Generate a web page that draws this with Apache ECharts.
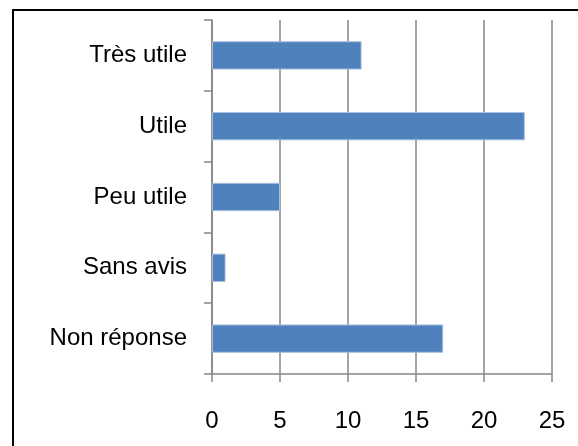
<!DOCTYPE html>
<html>
<head>
<meta charset="utf-8">
<script src="https://cdn.jsdelivr.net/npm/echarts@6/dist/echarts.min.js"></script>
<style>
  html, body { margin: 0; padding: 0; background: #fff; }
  #chart { width: 578px; height: 446px; position: relative; }
  #frame {
    position: absolute; left: 12px; top: 9px; width: 600px; height: 460px;
    border-left: 2px solid #000; border-top: 2px solid #000; pointer-events: none;
  }
</style>
</head>
<body>
<div id="chart"></div>
<div id="frame"></div>
<script>
const categories = ['Très utile', 'Utile', 'Peu utile', 'Sans avis', 'Non réponse']
const values = [11, 23, 5, 1, 17]

const chart = echarts.init(document.getElementById('chart'))
const gray = '#878787'
const font = '"Liberation Sans", Arial, sans-serif'

chart.setOption({
  animation: false,
  grid: { left: 212, right: 26, top: 20, bottom: 72 },
  xAxis: {
    type: 'value',
    min: 0,
    max: 25,
    interval: 5,
    axisLine: { show: true, lineStyle: { color: gray, width: 1.5 } },
    axisTick: { show: true, length: 8, lineStyle: { color: gray, width: 1.5 } },
    splitLine: { show: true, lineStyle: { color: gray, width: 1.5 } },
    axisLabel: { color: '#000', fontSize: 24, fontFamily: font, margin: 35 }
  },
  yAxis: {
    type: 'category',
    data: categories,
    inverse: true,
    axisLine: { show: true, lineStyle: { color: gray, width: 1.5 } },
    axisTick: { show: true, length: 8, lineStyle: { color: gray, width: 1.5 } },
    axisLabel: { color: '#000', fontSize: 24, fontFamily: font, margin: 25 }
  },
  series: [{
    type: 'bar',
    data: values,
    barCategoryGap: '60%',
    itemStyle: { color: '#4f81bd', borderColor: '#a7bfde', borderWidth: 1 }
  }]
})
</script>
</body>
</html>
